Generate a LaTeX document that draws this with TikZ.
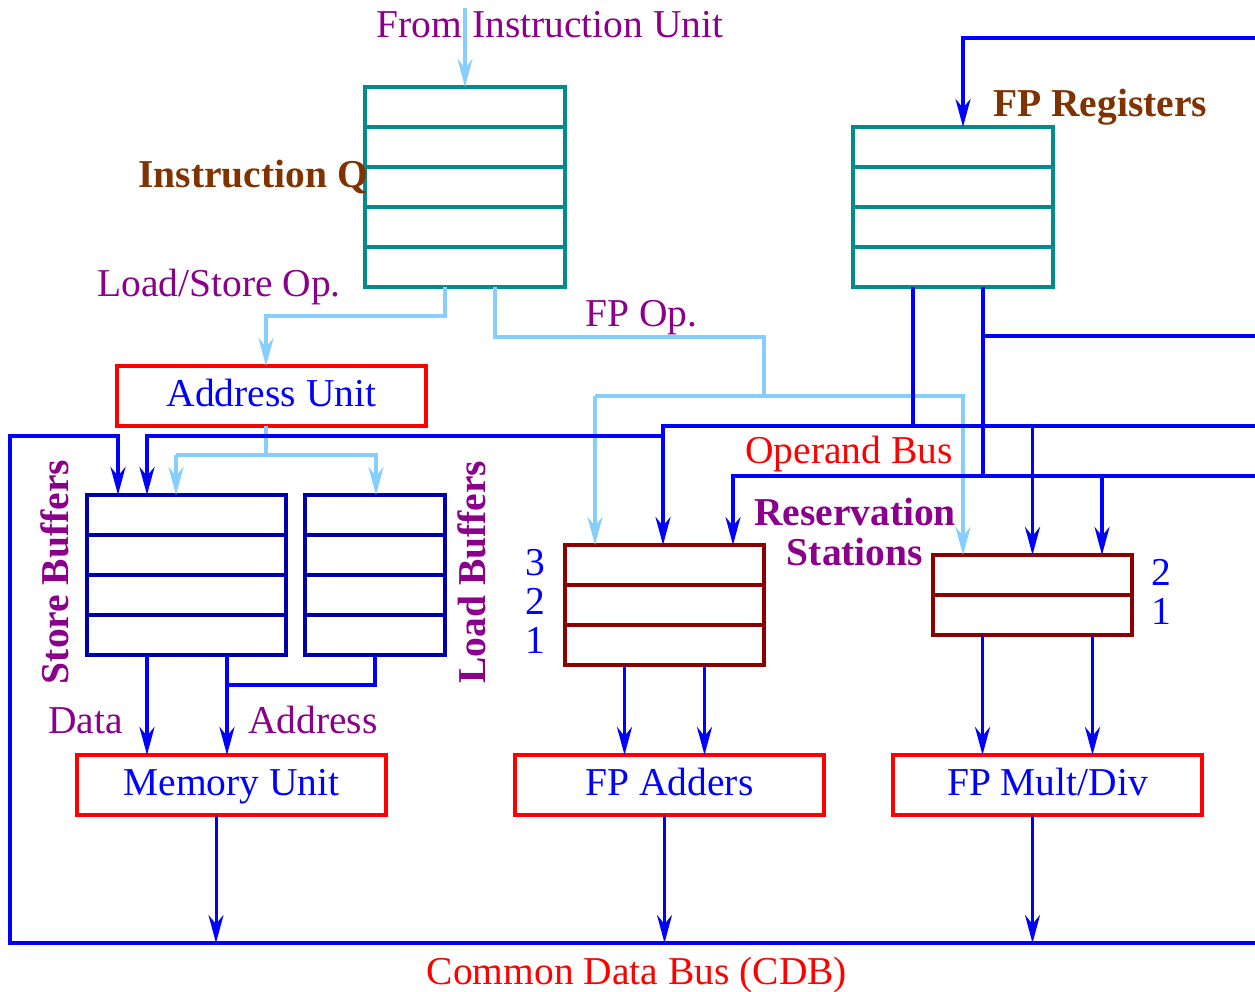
\documentclass[tikz,border=0pt]{standalone}
\usepackage{fontspec}
\setmainfont{Liberation Serif}
\usetikzlibrary{arrows.meta}

\definecolor{qcol}{RGB}{0,140,140}
\definecolor{bufcol}{RGB}{0,0,170}
\definecolor{rscol}{RGB}{139,0,0}
\definecolor{buscol}{RGB}{0,0,255}
\definecolor{opcol}{RGB}{135,206,255}
\definecolor{lblcol}{RGB}{139,0,139}
\definecolor{titcol}{RGB}{128,50,0}
\definecolor{unitcol}{RGB}{255,0,0}

\begin{document}
\begin{tikzpicture}[x=1pt, y=-1pt,
    font=\fontsize{39.5}{40}\selectfont,
    >={Stealth[length=28pt,width=15pt,inset=9pt]},
    regbox/.style={draw, line width=3.8pt, inner sep=0pt, outer sep=0pt},
    unitbox/.style={draw=unitcol, line width=4pt, inner sep=0pt, outer sep=0pt,
      minimum width=309pt, minimum height=60pt, text height=29pt, text depth=8pt, text=buscol},
    bus/.style={buscol, line width=3.8pt},
    opline/.style={opcol, line width=3.8pt},
    lbl/.style={inner sep=0pt, lblcol},
    tit/.style={inner sep=0pt, font=\fontsize{39.5}{40}\selectfont\bfseries}]
      \useasboundingbox (0,0) rectangle (1255,992);
      \node at (465,187)[regbox,qcol,minimum width=200pt,minimum height=200pt] (iq){};
      \node at (953,207)[regbox,qcol,minimum width=200pt,minimum height=160pt] (fpr){};
      \node at (186.5,575)[regbox,bufcol,minimum width=199pt,minimum height=160pt] (sb){};
      \node at (375,575)[regbox,bufcol,minimum width=140pt,minimum height=160pt] (lb){};
      \node at (664.5,605)[regbox,rscol,minimum width=199pt,minimum height=120pt] (ars){};
      \node at (1032.5,595)[regbox,rscol,minimum width=199pt,minimum height=80pt] (mrs){};
      \foreach \b/\n/\c in {iq/4/qcol, fpr/3/qcol, sb/3/bufcol, lb/3/bufcol, ars/2/rscol, mrs/1/rscol}
        \foreach \k in {1,...,\n}
          \draw[\c, line width=3.8pt] ([yshift=-\k*40pt]\b.north west) -- ([yshift=-\k*40pt]\b.north east);
      \node at (271.5,396)[unitbox] (au){Address Unit};
      \node at (231.5,785)[unitbox] (mu){Memory Unit};
      \node at (669.5,785)[unitbox] (fpa){FP Adders};
      \node at (1047.5,785)[unitbox] (fpm){FP Mult/Div};

      \node at (550,38)[lbl,anchor=base] (fromiu){From Instruction Unit};
      \node at (368,188)[tit,titcol,anchor=base east] (iqlbl){Instruction Q};
      \node at (993,117)[tit,titcol,anchor=base west] (fprlbl){FP Registers};
      \node at (97,297)[lbl,anchor=base west] (lslbl){Load/Store Op.};
      \node at (585,326)[lbl,anchor=base west] (fplbl){FP Op.};
      \node at (745,463)[inner sep=0pt,unitcol,anchor=base west] (oblbl){Operand Bus};
      \node at (855,532)[tit,lblcol,align=center] (rslbl){Reservation\\Stations};
      \node at (55,572)[tit,lblcol,rotate=90] (sblbl){Store Buffers};
      \node at (472,572)[tit,lblcol,rotate=90] (lblbl){Load Buffers};
      \node at (48,733)[lbl,anchor=base west] (dlbl){Data};
      \node at (248,733)[lbl,anchor=base west] (albl){Address};
      \node at (637,984)[inner sep=0pt,unitcol,anchor=base] (cdblbl){Common Data Bus (CDB)};
      \foreach \t/\y in {3/575, 2/614, 1/653}
        \node at (535,\y)[inner sep=0pt,buscol,anchor=base] (a\t){\t};
      \foreach \t/\y in {2/585, 1/624}
        \node at (1161,\y)[inner sep=0pt,buscol,anchor=base] (m\t){\t};

      \coordinate (iuin) at (465,8);
      \coordinate (ls0) at (445,287);
      \coordinate (ls1) at (266,316);
      \coordinate (fp0) at (495,287);
      \coordinate (fp1) at (764,337);
      \coordinate (fpl) at (595,396);
      \coordinate (fpr2) at (963,396);
      \coordinate (au0) at (266,455);
      \coordinate (sbl) at (176,455);
      \coordinate (lbl2) at (376,455);
      \draw[opline,->] (iuin) -- (iq.north);
      \draw[opline,->] (ls0) |- (ls1) -- (ls1 |- au.north);
      \draw[opline] (fp0) |- (fp1) -- (fp1 |- fpl);
      \draw[opline,->] (fpl) -- (fpl |- ars.north);
      \draw[opline,->] (fpl) -- (fpr2) -- (fpr2 |- mrs.north);
      \draw[opline] (au.south -| au0) -- (au0);
      \draw[opline,->] (sbl) -- (sbl |- sb.north);
      \draw[opline,->] (sbl) -- (lbl2) -- (lbl2 |- lb.north);

      \coordinate (cdbr) at (1255,943);
      \coordinate (cdbl) at (10,436);
      \coordinate (sbtap) at (118,436);
      \coordinate (ob1) at (1255,426);
      \coordinate (ob2) at (663,426);
      \coordinate (ob3) at (147,436);
      \coordinate (rg1) at (913,287);
      \coordinate (rg2) at (983,287);
      \coordinate (rb1) at (1255,336);
      \coordinate (rb2) at (1255,476);
      \coordinate (rb3) at (733,476);
      \coordinate (mtap) at (1102,476);
      \coordinate (rtop) at (1255,38);
      \coordinate (rin) at (963,38);
      \draw[bus,->] (cdbr) -| (cdbl) -- (sbtap) -- (sbtap |- sb.north);
      \draw[bus,->] (ob1) -- (ob2) -- (ob2 |- ars.north);
      \draw[bus,->] (ob2 |- ob3) -- (ob3) -- (ob3 |- sb.north);
      \draw[bus] (rg1) -- (rg1 |- ob1);
      \draw[bus,->] (mrs.north |- ob1) -- (mrs.north);
      \draw[bus] (rg2) -- (rg2 |- rb2);
      \draw[bus] (rg2 |- rb1) -- (rb1);
      \draw[bus,->] (rb2) -- (rb3) -- (rb3 |- ars.north);
      \draw[bus,->] (mtap) -- (mtap |- mrs.north);
      \draw[bus,->] (rtop) -- (rin) -- (rin |- fpr.north);

      \coordinate (dt) at (147,655);
      \coordinate (ad) at (227,655);
      \coordinate (lbj) at (227,685);
      \draw[bus,->] (dt) -- (dt |- mu.north);
      \draw[bus,->] (ad) -- (ad |- mu.north);
      \draw[bus] (lb.south) |- (lbj);
      \foreach \s in {-40,40}
        \draw[bus,->] ([xshift=\s pt]ars.south) -- ([xshift=\s pt]ars.south |- fpa.north);
      \foreach \s in {-50,60}
        \draw[bus,->] ([xshift=\s pt]mrs.south) -- ([xshift=\s pt]mrs.south |- fpm.north);
      \draw[bus,line width=3pt,->] ([xshift=-15.5pt]mu.south) -- ([xshift=-15.5pt]mu.south |- cdbr);
      \draw[bus,line width=3pt,->] ([xshift=-5pt]fpa.south) -- ([xshift=-5pt]fpa.south |- cdbr);
      \draw[bus,line width=3pt,->] ([xshift=-15pt]fpm.south) -- ([xshift=-15pt]fpm.south |- cdbr);
\end{tikzpicture}
\end{document}
